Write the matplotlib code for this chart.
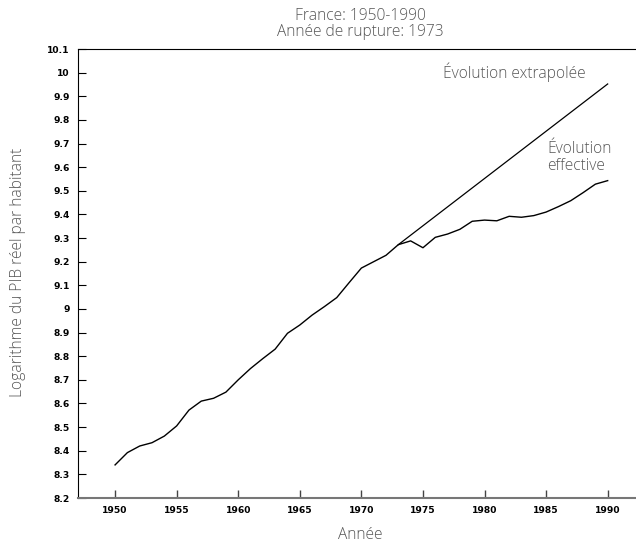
import numpy as np
import matplotlib.pyplot as plt

annees = list(range(1950, 1991))
pib_log = [8.34, 8.392, 8.42, 8.434, 8.462, 8.505, 8.572, 8.61, 8.622, 8.648,
           8.70, 8.748, 8.79, 8.83, 8.897, 8.932, 8.974, 9.01, 9.048, 9.111,
           9.173, 9.20, 9.227, 9.272, 9.288, 9.259, 9.303, 9.317, 9.337, 9.371,
           9.376, 9.373, 9.392, 9.388, 9.395, 9.41, 9.433, 9.458, 9.492, 9.528,
           9.543]

annees_extra = [1973, 1990]
pib_extra = [9.272, 9.952]

yticks = [8.2, 8.3, 8.4, 8.5, 8.6, 8.7, 8.8, 8.9, 9.0, 9.1, 9.2, 9.3, 9.4,
          9.5, 9.6, 9.7, 9.8, 9.9, 10.0, 10.1]
xticks = [1950, 1955, 1960, 1965, 1970, 1975, 1980, 1985, 1990]

txt = '#555555'
fnt = 'Open Sans'
fs = 11.2

fig = plt.figure(figsize=(6.36, 5.45), dpi=100)
ax = fig.add_axes([78/636, 1-498/545, 1-78/636, 449/545])

ax.plot(annees, pib_log, color='black', lw=1.0)
ax.plot(annees_extra, pib_extra, color='black', lw=0.9)

ax.set_xlim(1946.99, 1992.3)
ax.set_ylim(8.2, 10.1)

ax.set_xticks(xticks)
ax.set_xticklabels([str(x) for x in xticks])
ax.set_yticks(yticks)
ax.set_yticklabels(['{:g}'.format(round(v, 1)) for v in yticks])

for lab in ax.get_xticklabels() + ax.get_yticklabels():
    lab.set_fontweight('bold')
    lab.set_fontsize(6.6)
    lab.set_family('DejaVu Sans')

ax.tick_params(axis='x', direction='in', length=6, width=1, color='#444444', pad=6)
ax.tick_params(axis='y', direction='in', length=6, width=0.8, color='black', pad=6)

ax.spines['right'].set_visible(False)
ax.spines['bottom'].set_color('#777777')
ax.spines['bottom'].set_linewidth(1.5)
ax.spines['left'].set_linewidth(0.8)
ax.spines['top'].set_linewidth(0.8)

ax.text(1976.6, 10.0, 'Évolution extrapolée', fontsize=fs, color=txt, family=fnt,
        fontweight='light', ha='left', va='center')
ax.text(1985.1, 9.64, 'Évolution\neffective', fontsize=fs, color=txt, family=fnt,
        fontweight='light', ha='left', va='center', linespacing=1.05)

fig.text(360/636, 1-535/545, 'Année', fontsize=fs, color=txt, family=fnt,
         fontweight='light', ha='center', va='center')
fig.text(18/636, 1-272/545, 'Logarithme du PIB réel par habitant', fontsize=fs,
         color=txt, family=fnt, fontweight='light', rotation=90,
         ha='center', va='center')

fig.text(360/636, 1-24.5/545, 'France: 1950-1990\nAnnée de rupture: 1973',
         ha='center', va='center', fontsize=fs, color=txt, family=fnt,
         fontweight='light', linespacing=1.0)

fig.savefig('out.png', dpi=100)
